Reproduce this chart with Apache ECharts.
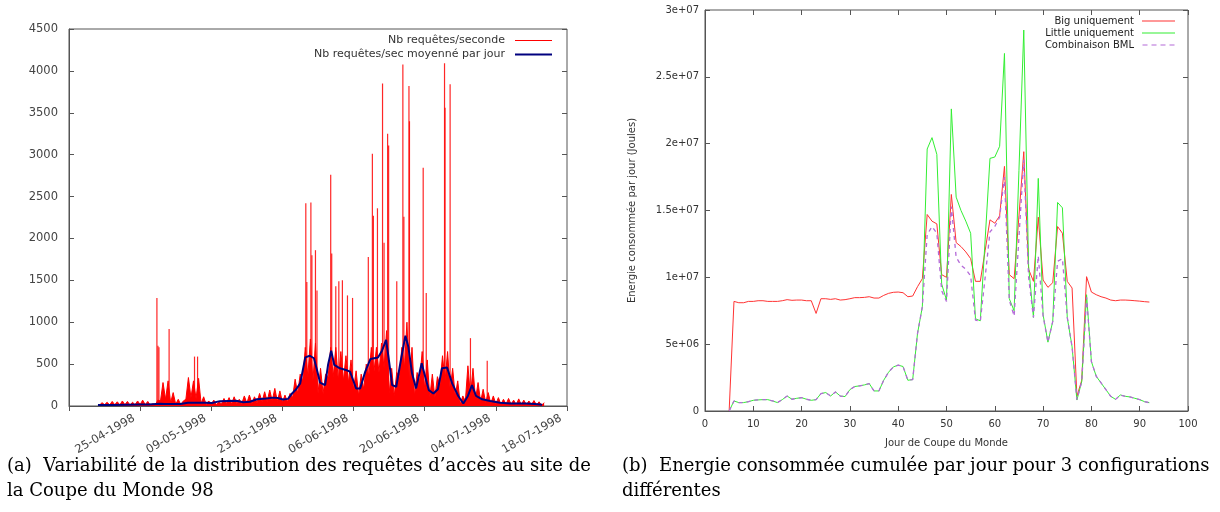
<!DOCTYPE html>
<html><head><meta charset="utf-8">
<script src="https://cdn.jsdelivr.net/npm/echarts@6/dist/echarts.min.js"></script>
<style>html,body{margin:0;padding:0;background:#fff}#c{width:1220px;height:512px}</style>
</head><body><div id="c"></div>
<script>
// ---------- (a) requests per second, x in days since 11-04-1998 ----------
const dateTickLabels = ['25-04-1998','09-05-1998','23-05-1998','06-06-1998','20-06-1998','04-07-1998','18-07-1998'];
const reqFirstDay = 6;
// solid body level and daily peak of the dense red signal, one pair per day
const reqSolid = [10,15,12,15,12,15,10,15,18,15,8,
  15,60,80,40,20, 15,80,100,90,30, 15,20,15,25,30, 25,30,30,35,30,
  40,50,55,60,55, 45,50,100,150,300, 350,300,150,150,350, 350,300,300,280,200,
  120,200,350,400,400, 450,150,120,350,450, 250,120,300,200,100, 100,250,300,200,120,
  20,60,120,80,50, 40,30,25,20,20, 20,15,15,15,15, 12,8];
const reqPeak = [40,45,55,50,60,55,45,60,70,55,25,
  70,280,300,160,80, 60,340,300,330,110, 60,70,50,90,100, 110,80,120,130,110,
  150,170,190,210,180, 130,150,320,380,700, 800,750,450,380,700, 700,650,600,550,420,
  380,500,700,700,750, 900,450,400,700,1000, 700,400,650,550,380, 350,600,650,450,300,
  120,480,450,280,200, 160,120,100,80,90, 70,85,70,60,65, 50,40];
// isolated spikes [day, requests/s]
const reqSpikes = [[17.3,1290],[17.5,720],[17.7,700],[19.7,920],[24.7,590],[25.3,590],
  [46.6,2420],[46.8,1480],[47.6,2430],[47.8,1800],[48.5,1860],[48.8,1380],
  [51.5,2760],[51.7,1820],[52.5,1430],[53.1,1490],[53.8,1500],[54.8,1320],[55.8,1290],
  [58.9,1780],[59.7,3010],[59.9,2270],[60.7,2360],[61.7,3850],[62.0,1950],[62.7,3250],[62.9,3110],
  [64.5,1490],[65.7,4075],[65.9,2260],[66.9,3820],[67.0,3400],[69.7,2845],[70.3,1350],
  [73.9,4090],[74.0,3560],[75.0,3840],[79.0,810],[82.3,540]];
const avgDays = [5.7,8.7,14,15.6,15.9,17.9,18.9,21.9,23.4,26.8,28.1,29.7,32.9,34.3,35.6,37,38.8,40.2,41.1,42.1,43.1,43.9,44.7,45.5,
  46.5,47.4,48.2,48.8,49.4,50.4,51,51.6,52.2,53.3,54.5,55.3,55.9,56.5,57.3,58.3,59.3,60.8,61.6,62.4,62.9,63.6,64.4,65.2,66.2,66.8,
  67.5,68.3,69.4,70.1,70.8,71.7,72.6,73.4,74.4,75.4,76.6,77.6,78.5,79.3,80.1,81.3,82.9,84.8,86.8,89.8,91.7,93.1];
const avgValues = [12,12,18,18,30,28,25,25,40,40,35,58,62,45,50,80,90,100,95,78,85,150,200,270,
  580,600,570,430,280,250,500,660,490,450,430,410,310,210,210,410,560,580,660,790,570,250,230,510,840,700,
  390,210,510,350,190,150,200,450,460,270,120,30,120,250,120,80,60,40,30,30,25,15];

// ---------- (b) energy per day ----------
const wcFirstDay = 5;
const ENERGY_UNIT = 1e6;
const bigUniquement = [0,8.2,8.1,8.1,8.2,8.2,8.25,8.25,8.2,8.2,8.2,
  8.25,8.33,8.28,8.3,8.3, 8.25,8.25,7.3,8.4,8.4, 8.35,8.4,8.3,8.33,8.4, 8.48,8.48,8.5,8.55,8.45,
  8.45,8.65,8.8,8.88,8.9, 8.85,8.55,8.6,9.3,9.9, 14.7,14.2,14.0,10.2,10.0, 16.2,12.6,12.3,11.9,11.4,
  9.7,9.7,12.0,14.3,14.05, 14.6,18.3,10.2,9.9,14.6, 19.4,10.6,9.7,14.5,9.8, 9.25,9.6,13.8,13.3,9.7,
  9.2,1.1,2.3,10.05,8.9, 8.7,8.55,8.45,8.3,8.25, 8.3,8.3,8.28,8.25,8.22, 8.18,8.15];
const littleUniquement = [0,0.75,0.63,0.63,0.7,0.8,0.83,0.85,0.85,0.75,0.63,
  0.85,1.12,0.88,0.95,1.0, 0.88,0.8,0.85,1.3,1.38, 1.12,1.43,1.12,1.08,1.6, 1.83,1.88,1.95,2.05,1.5,
  1.5,2.3,2.9,3.3,3.43, 3.33,2.3,2.35,5.8,7.8, 19.6,20.45,19.2,9.5,8.3, 22.6,16.0,15.0,14.2,13.3,
  6.9,6.75,12.8,18.9,19.0, 19.8,26.75,8.4,7.5,18.0, 28.5,10.8,7.0,17.4,7.2, 5.15,6.7,15.6,15.2,7.0,
  4.8,0.82,2.2,8.7,3.7, 2.6,2.1,1.6,1.1,0.87, 1.2,1.1,1.05,0.95,0.85, 0.7,0.62];
const combinaisonBML = [0,0.75,0.63,0.63,0.7,0.8,0.83,0.85,0.85,0.75,0.63,
  0.85,1.12,0.88,0.95,1.0, 0.88,0.8,0.85,1.3,1.38, 1.12,1.43,1.12,1.08,1.6, 1.83,1.88,1.95,2.05,1.5,
  1.5,2.3,2.9,3.3,3.43, 3.33,2.3,2.35,5.8,7.8, 13.2,13.8,13.3,9.0,8.2, 15.3,11.5,10.9,10.6,10.1,
  6.8,6.7,10.0,13.4,13.8, 14.5,17.5,8.3,7.1,13.0, 18.8,10.0,7.0,11.6,7.1, 5.15,6.7,11.2,11.4,7.0,
  4.8,0.85,2.2,8.5,3.7, 2.6,2.1,1.6,1.1,0.87, 1.2,1.1,1.05,0.95,0.85, 0.7,0.62];

// ---------- build series data ----------
const reqLine = [];
reqSolid.forEach((v, i) => { const d = reqFirstDay + i; reqLine.push([d, v]); reqLine.push([d + 0.5, reqPeak[i]]); });
const avgLine = avgDays.map((d, i) => [d, avgValues[i]]);
const toEnergy = arr => arr.map((v, i) => [wcFirstDay + i, v * ENERGY_UNIT]);

function gnuplotExp(v) {
  if (v === 0) return '0';
  const e = Math.floor(Math.log10(v) + 1e-9);
  const m = +(v / Math.pow(10, e)).toFixed(3);
  return m + 'e+' + String(e).padStart(2, '0');
}

const SANS = 'DejaVu Sans';
const FRAME = '#555';
const lineIcon = 'path://M0,4.5h40v1h-40z M0,0h0.01v0.01z M0,9.99h0.01v0.01z';
const thickIcon = 'path://M0,4h40v2h-40z M0,0h0.01v0.01z M0,9.99h0.01v0.01z';
const dashIcon = 'path://M0,4.4h5v1.2h-5z M9,4.4h5v1.2h-5z M18,4.4h5v1.2h-5z M27,4.4h5v1.2h-5z M0,0h0.01v0.01z M0,9.99h0.01v0.01z';
const captionStyle = {fontFamily: 'DejaVu Serif', fontSize: 18, fontWeight: 'normal', color: '#000', lineHeight: 25};

const chart = echarts.init(document.getElementById('c'), null, {renderer: 'canvas'});
chart.setOption({
  animation: false,
  backgroundColor: '#fff',
  title: [
    {text: '(a)  Variabilité de la distribution des requêtes d’accès au site de\nla Coupe du Monde 98', left: 7, top: 454, padding: 0, textStyle: captionStyle},
    {text: '(b)  Energie consommée cumulée par jour pour 3 configurations\ndifférentes', left: 622, top: 454, padding: 0, textStyle: captionStyle}
  ],
  legend: [
    {orient: 'vertical', align: 'right', right: 668, top: 35, itemWidth: 37, itemHeight: 10, itemGap: 3,
     padding: 0, textStyle: {fontFamily: SANS, fontSize: 11, color: '#333', padding: [0, 5, 0, 0]},
     data: [{name: 'Nb requêtes/seconde', icon: lineIcon}, {name: 'Nb requêtes/sec moyenné par jour', icon: thickIcon}]},
    {orient: 'vertical', align: 'right', right: 45, top: 16, itemWidth: 33, itemHeight: 10, itemGap: 2,
     padding: 0, textStyle: {fontFamily: SANS, fontSize: 10, color: '#222', padding: [0, 3, 0, 0]},
     data: [{name: 'Big uniquement', icon: lineIcon}, {name: 'Little uniquement', icon: lineIcon}, {name: 'Combinaison BML', icon: dashIcon}]}
  ],
  grid: [
    {left: 69, top: 29, width: 498, height: 377, show: true, borderColor: FRAME, borderWidth: 1, containLabel: false, outerBoundsMode: 'none'},
    {left: 705, top: 10, width: 483, height: 401, show: true, borderColor: FRAME, borderWidth: 1, containLabel: false, outerBoundsMode: 'none'}
  ],
  xAxis: [
    {type: 'value', gridIndex: 0, min: 0, max: 98, interval: 14,
     axisLine: {show: true, onZero: false, lineStyle: {color: FRAME}},
     axisTick: {show: true, inside: false, length: 5, lineStyle: {color: FRAME}},
     splitLine: {show: false},
     axisLabel: {rotate: 30, margin: 8, padding: [0, 7, 0, 0], fontFamily: SANS, fontSize: 11.5, color: '#444',
       formatter: v => (v === 0 ? '' : (dateTickLabels[Math.round(v / 14) - 1] || ''))}},
    {type: 'value', gridIndex: 1, min: 0, max: 100, interval: 10,
     axisLine: {show: true, onZero: false, lineStyle: {color: FRAME}},
     axisTick: {show: true, inside: true, length: 5, lineStyle: {color: FRAME}},
     splitLine: {show: false},
     axisLabel: {margin: 8, fontFamily: SANS, fontSize: 10, color: '#333'},
     name: 'Jour de Coupe du Monde', nameLocation: 'middle', nameGap: 27,
     nameTextStyle: {fontFamily: SANS, fontSize: 10, color: '#333'}},
    {type: 'value', gridIndex: 1, position: 'top', min: 0, max: 100, interval: 10,
     axisLine: {show: false, onZero: false}, axisTick: {show: true, inside: true, length: 5, lineStyle: {color: FRAME}},
     axisLabel: {show: false}, splitLine: {show: false}}
  ],
  yAxis: [
    {type: 'value', gridIndex: 0, min: 0, max: 4500, interval: 500,
     axisLine: {show: true, onZero: false, lineStyle: {color: FRAME}},
     axisTick: {show: true, inside: true, length: 5, lineStyle: {color: FRAME}},
     splitLine: {show: false},
     axisLabel: {margin: 11, fontFamily: SANS, fontSize: 11.5, color: '#444', formatter: v => String(v)}},
    {type: 'value', gridIndex: 0, position: 'right', min: 0, max: 4500, interval: 500,
     axisLine: {show: false, onZero: false}, axisTick: {show: true, inside: true, length: 5, lineStyle: {color: FRAME}},
     axisLabel: {show: false}, splitLine: {show: false}},
    {type: 'value', gridIndex: 1, min: 0, max: 3e7, interval: 5e6,
     axisLine: {show: true, onZero: false, lineStyle: {color: FRAME}},
     axisTick: {show: true, inside: true, length: 5, lineStyle: {color: FRAME}},
     splitLine: {show: false},
     axisLabel: {margin: 6, fontFamily: SANS, fontSize: 10, color: '#333', formatter: gnuplotExp},
     name: 'Energie consommée par jour (Joules)', nameLocation: 'middle', nameGap: 68, nameRotate: 90,
     nameTextStyle: {fontFamily: SANS, fontSize: 10, color: '#333'}},
    {type: 'value', gridIndex: 1, position: 'right', min: 0, max: 3e7, interval: 5e6,
     axisLine: {show: false, onZero: false}, axisTick: {show: true, inside: true, length: 5, lineStyle: {color: FRAME}},
     axisLabel: {show: false}, splitLine: {show: false}}
  ],
  series: [
    {name: 'Nb requêtes/seconde', type: 'line', xAxisIndex: 0, yAxisIndex: 0, data: reqLine,
     symbol: 'none', sampling: null, color: '#ff0000',
     lineStyle: {color: '#ff0000', width: 1}, areaStyle: {color: '#ff0000', opacity: 1}, z: 2},
    {name: 'Nb requêtes/seconde', type: 'bar', xAxisIndex: 0, yAxisIndex: 0, data: reqSpikes,
     barWidth: 1.2, color: '#ff0000', itemStyle: {color: 'rgba(255,0,0,0.85)'}, z: 2},
    {name: 'Nb requêtes/sec moyenné par jour', type: 'line', xAxisIndex: 0, yAxisIndex: 0, data: avgLine,
     symbol: 'none', color: '#00007f', lineStyle: {color: '#00007f', width: 2}, z: 4},
    {name: 'Big uniquement', type: 'line', xAxisIndex: 1, yAxisIndex: 2, data: toEnergy(bigUniquement),
     symbol: 'none', color: '#ff3333', lineStyle: {color: '#ff3333', width: 1}, z: 3},
    {name: 'Little uniquement', type: 'line', xAxisIndex: 1, yAxisIndex: 2, data: toEnergy(littleUniquement),
     symbol: 'none', color: '#33ee33', lineStyle: {color: '#33ee33', width: 1}, z: 3},
    {name: 'Combinaison BML', type: 'line', xAxisIndex: 1, yAxisIndex: 2, data: toEnergy(combinaisonBML),
     symbol: 'none', color: '#b46ad8', lineStyle: {color: '#b46ad8', width: 1.3, type: [4, 4]}, z: 4}
  ]
});
</script></body></html>
